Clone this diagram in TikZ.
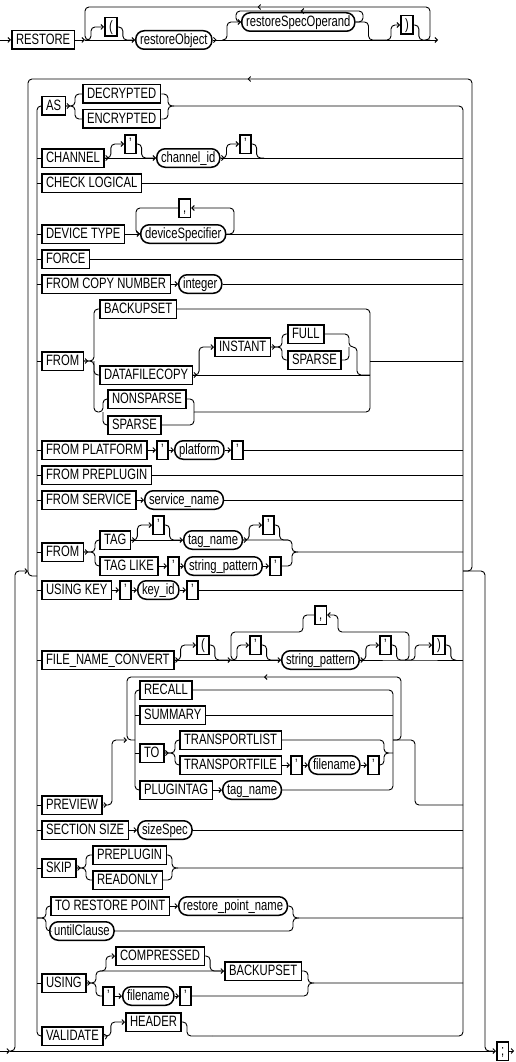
\documentclass[tikz,border=0pt]{standalone}
\usepackage{fontspec}
\setmainfont{Liberation Sans}[FakeStretch=0.75]
\usetikzlibrary{arrows.meta,calc,decorations.markings}

\tikzset{
  rail/.style={line width=0.9pt, rounded corners=4pt},
  arr/.style={-{Straight Barb[length=2.5pt,width=5pt]}},
  ex/.style={postaction={decorate}, decoration={markings,
      mark=at position 4pt with {\arrow{Straight Barb[length=2.5pt,width=5pt]}}}},
  retarrow/.style={postaction={decorate}, decoration={markings,
      mark=at position 0.5 with {\arrow{Straight Barb[length=2.5pt,width=5pt]}}}},
  kw/.style={draw, line width=1.5pt, anchor=west, fill=white, minimum height=18.5pt,
    inner xsep=4.3pt, inner ysep=0pt, text height=10.7pt, text depth=2.5pt,
    font=\fontsize{15pt}{15pt}\selectfont},
  nt/.style={kw, rounded corners=8.5pt},
}

\begin{document}
\begin{tikzpicture}[x=1pt,y=-1pt]
  \useasboundingbox (0,0) rectangle (515,1062);
  \newcommand\optbox[3]{%
    \draw[rail,arr] (#1) -- ++(6,0) |- (#2.west);
    \draw[rail] (#2.east) -- ++(5,0) |- (#3);}

  %% first line
  \node[kw] (restore) at (11,40) {RESTORE};
  \node[kw] (lparen) at (104,27) {(};
  \node[nt] (rObj) at (135,40) {restoreObject};
  \node[nt] (rSpec) at (241,22) {restoreSpecOperand};
  \node[kw] (rparen) at (400,25) {)};
  \coordinate (start0) at (0,40);
  \coordinate (j0a) at (85,40);
  \coordinate (j0c) at (222,40);
  \coordinate (j0d) at (385,40);
  \coordinate (j0e) at (430,40);
  \coordinate (end0) at (438,40);
  \coordinate (sp0L) at (236,22);
  \coordinate (sp0R) at (363,22);
  \coordinate (sp0T) at (300,11);
  \coordinate (lp0T) at (258,7);

  \draw[rail,arr] (start0) -- (restore.west);
  \draw[rail,arr] (restore.east) -- (j0a);
  \draw[rail,arr] (j0a) -- (rObj.west);
  \optbox{j0a}{lparen}{rObj.west}
  \draw[rail,ex,arr] (rObj.east) -- (end0);
  \draw[rail,arr] (j0c) -- ++(5,0) |- (rSpec.west);
  \draw[rail,retarrow] (rSpec.east) -- (sp0R) |- (sp0T) -| (sp0L) -- (rSpec.west);
  \draw[rail] (rSpec.east) -- ++(13,0) |- (j0d);
  \optbox{j0d}{rparen}{j0e}
  \draw[rail,retarrow] ($(j0e)+(-5,0)$) -- (j0e) |- (lp0T) -| (j0a) -- ++(5,0);

  %% rails and the repeat loop
  \coordinate (lb) at (37,1036);
  \coordinate (rb) at (463,1036);
  \coordinate (rj) at (463,571);
  \coordinate (lj) at (37,576);
  \coordinate (topR) at (472,79);
  \coordinate (topL) at (28,576);
  \coordinate (lowL) at (15,571);
  \coordinate (lowIn) at (28,571);
  \coordinate (lowR) at (485,1051);
  \coordinate (lowRe) at (493,1051);
  \coordinate (start1) at (0,1051);
  \coordinate (bl) at (10,1051);
  \node[kw] (semi) at (496,1051) {;};

  \draw[rail,retarrow] (rj) -| (topR) -| (topL) -- (lj);
  \draw[rail,arr] (bl) -| (lowL) -- (lowIn);
  \draw[rail] (rj) -| (lowR) -- (lowRe);
  \draw[rail,arr] (start1) -- (bl);
  \draw[rail,arr] (bl) -- (semi.west);
  \draw[rail,arr] (semi.east) -- ++(5,0);

  %% AS
  \node[kw] (as) at (41,106) {AS};
  \node[kw] (dec) at (82,94) {DECRYPTED};
  \node[kw] (enc) at (82,119) {ENCRYPTED};
  \coordinate (jAS) at (75,106);
  \coordinate (jASr) at (168,106);
  \draw[rail,ex] (as.east) -- (jAS) |- (dec.west);
  \draw[rail] (as.east) -- (jAS) |- (enc.west);
  \draw[rail] (dec.east) -| (jASr) -| (rb) -- (212,1036); %% right rail
  \draw[rail] (enc.east) -| (jASr) -- ++(6,0);
  \draw[rail] (as.west) -| (lb) -- (41,1036); %% left rail

  %% CHANNEL
  \node[kw] (chan) at (41,158) {CHANNEL};
  \node[kw] (q1) at (124,144) {'};
  \node[nt] (chid) at (156,158) {channel\_id};
  \node[kw] (q2) at (239,144) {'};
  \coordinate (jCh) at (264,158);
  \draw[rail] (chan.west -| lb) -- (chan.west);
  \draw[rail,ex,arr] (chan.east) -- (chid.west);
  \optbox{chan.east}{q1}{chid.west}
  \draw[rail,ex] (chid.east) -- (chid.east -| rb);
  \optbox{chid.east}{q2}{jCh}

  %% CHECK LOGICAL
  \node[kw] (chk) at (41,183) {CHECK LOGICAL};
  \draw[rail] (chk.west -| lb) -- (chk.west);
  \draw[rail] (chk.east) -- (chk.east -| rb);

  %% DEVICE TYPE
  \node[kw] (dev) at (41,234) {DEVICE TYPE};
  \node[nt] (devs) at (140,234) {deviceSpecifier};
  \node[kw] (comma1) at (178,208) {,};
  \coordinate (dvL) at (136,234);
  \coordinate (dvR) at (234,208);
  \draw[rail] (dev.west -| lb) -- (dev.west);
  \draw[rail,arr] (dev.east) -- (devs.west);
  \draw[rail] (devs.east) -- (devs.east -| rb);
  \draw[rail,arr] (devs.east) -| (dvR) -- (comma1.east);
  \draw[rail] (comma1.west) -| (dvL) -- (devs.west);

  %% FORCE
  \node[kw] (force) at (41,259) {FORCE};
  \draw[rail] (force.west -| lb) -- (force.west);
  \draw[rail] (force.east) -- (force.east -| rb);

  %% FROM COPY NUMBER
  \node[kw] (fcn) at (41,284) {FROM COPY NUMBER};
  \node[nt] (int) at (178,284) {integer};
  \draw[rail] (fcn.west -| lb) -- (fcn.west);
  \draw[rail,arr] (fcn.east) -- (int.west);
  \draw[rail] (int.east) -- (int.east -| rb);

  %% FROM BACKUPSET / DATAFILECOPY
  \node[kw] (from1) at (41,361) {FROM};
  \node[kw] (bks) at (99,309) {BACKUPSET};
  \node[kw] (dfc) at (99,375) {DATAFILECOPY};
  \node[kw] (inst) at (214,347) {INSTANT};
  \node[kw] (full) at (287,334) {FULL};
  \node[kw] (spr1) at (287,360) {SPARSE};
  \node[kw] (nsp) at (107,399) {NONSPARSE};
  \node[kw] (spr2) at (107,425) {SPARSE};
  \coordinate (jF) at (94,361);
  \coordinate (jFr) at (370,361);
  \coordinate (jFb) at (370,412);
  \coordinate (jN) at (103,412);
  \coordinate (jNr) at (194,412);
  \coordinate (jI) at (282,347);
  \coordinate (jIr) at (349,347);
  \draw[rail] (from1.west -| lb) -- (from1.west);
  \draw[rail,ex] (from1.east) -- (jF) |- (bks.west);
  \draw[rail] (from1.east) -- (jF) |- (dfc.west);
  \draw[rail] (jF) |- (jN) |- (nsp.west);
  \draw[rail] (jN) |- (spr2.west);
  \draw[rail] (bks.east) -| (jFb) -- (jNr);
  \draw[rail] (jFr) -- (jFr -| rb);
  \draw[rail,ex] (dfc.east) -- (dfc.east -| jFr);
  \draw[rail,arr] (dfc.east) -- ++(6,0) |- (inst.west);
  \draw[rail,ex] (inst.east) -- (jI) |- (full.west);
  \draw[rail] (inst.east) -- (jI) |- (spr1.west);
  \draw[rail] (full.east) -| (jIr) -- ++(8,0) |- (dfc.east -| jFr);
  \draw[rail] (spr1.east) -| (jIr);
  \draw[rail] (nsp.east) -| (jNr);
  \draw[rail] (spr2.east) -| (jNr);

  %% FROM PLATFORM
  \node[kw] (fpl) at (41,450) {FROM PLATFORM};
  \node[kw] (q3) at (156,450) {'};
  \node[nt] (plat) at (174,450) {platform};
  \node[kw] (q4) at (231,450) {'};
  \draw[rail] (fpl.west -| lb) -- (fpl.west);
  \draw[rail,arr] (fpl.east) -- (q3.west);
  \draw[rail,arr] (q3.east) -- (plat.west);
  \draw[rail,arr] (plat.east) -- (q4.west);
  \draw[rail] (q4.east) -- (q4.east -| rb);

  %% FROM PREPLUGIN
  \node[kw] (fpp) at (41,475) {FROM PREPLUGIN};
  \draw[rail] (fpp.west -| lb) -- (fpp.west);
  \draw[rail] (fpp.east) -- (fpp.east -| rb);

  %% FROM SERVICE
  \node[kw] (fsv) at (41,500) {FROM SERVICE};
  \node[nt] (svc) at (144,500) {service\_name};
  \draw[rail] (fsv.west -| lb) -- (fsv.west);
  \draw[rail,arr] (fsv.east) -- (svc.west);
  \draw[rail] (svc.east) -- (svc.east -| rb);

  %% FROM TAG
  \node[kw] (from2) at (41,552) {FROM};
  \node[kw] (tag) at (99,540) {TAG};
  \node[kw] (q5) at (152,525) {'};
  \node[nt] (tagn) at (183,540) {tag\_name};
  \node[kw] (q6) at (262,525) {'};
  \node[kw] (tagl) at (99,566) {TAG LIKE};
  \node[kw] (q7) at (167,566) {'};
  \node[nt] (strp) at (184,566) {string\_pattern};
  \node[kw] (q8) at (269,566) {'};
  \coordinate (jT) at (95,552);
  \coordinate (jTr) at (292,552);
  \coordinate (jT6) at (288,540);
  \draw[rail] (from2.west -| lb) -- (from2.west);
  \draw[rail,ex] (from2.east) -- (jT) |- (tag.west);
  \draw[rail] (from2.east) -- (jT) |- (tagl.west);
  \draw[rail,ex,arr] (tag.east) -- (tagn.west);
  \optbox{tag.east}{q5}{tagn.west}
  \draw[rail,ex] (tagn.east) -| (jTr) -- (jTr -| rb);
  \optbox{tagn.east}{q6}{jT6}
  \draw[rail,arr] (tagl.east) -- (q7.west);
  \draw[rail,arr] (q7.east) -- (strp.west);
  \draw[rail,arr] (strp.east) -- (q8.west);
  \draw[rail] (q8.east) -| (jTr) -- ++(6,0);

  %% USING KEY
  \node[kw] (uk) at (41,590) {USING KEY};
  \node[kw] (q9) at (119,590) {'};
  \node[nt] (kid) at (137,590) {key\_id};
  \node[kw] (q10) at (186,590) {'};
  \draw[rail] (uk.west -| lb) -- (uk.west);
  \draw[rail,arr] (uk.east) -- (q9.west);
  \draw[rail,arr] (q9.east) -- (kid.west);
  \draw[rail,arr] (kid.east) -- (q10.west);
  \draw[rail] (q10.east) -- (q10.east -| rb);

  %% FILE_NAME_CONVERT
  \node[kw] (fnc) at (41,660) {FILE\_NAME\_CONVERT};
  \node[kw] (lp2) at (196,645) {(};
  \node[kw] (q11) at (249,645) {'};
  \node[nt] (strp2) at (281,660) {string\_pattern};
  \node[kw] (q12) at (379,645) {'};
  \node[kw] (comma2) at (314,615) {,};
  \node[kw] (rp2) at (432,645) {)};
  \coordinate (jLl) at (231,660);
  \coordinate (jLr) at (409,660);
  \coordinate (cR) at (338,632);
  \coordinate (cL) at (303,632);
  \coordinate (jP) at (456,660);
  \draw[rail] (fnc.west -| lb) -- (fnc.west);
  \draw[rail,ex,arr] (fnc.east) -- (jLl);
  \optbox{fnc.east}{lp2}{jLl}
  \draw[rail,arr] (jLl) -- (strp2.west);
  \optbox{jLl}{q11}{strp2.west}
  \draw[rail,ex] (strp2.east) -- (jLr) -- (jLr -| rb);
  \optbox{strp2.east}{q12}{jLr}
  \optbox{jLr}{rp2}{jP}
  \draw[rail,arr] ($(jLr)+(-4,0)$) -- (jLr) |- (cR) |- (comma2.east); %% back through ,
  \draw[rail] (comma2.west) -| (cL) -| (jLl) -- ++(4,0);

  %% PREVIEW
  \node[kw] (prev) at (41,805) {PREVIEW};
  \node[kw] (rec) at (139,690) {RECALL};
  \node[kw] (sum) at (139,715) {SUMMARY};
  \node[kw] (to1) at (139,753) {TO};
  \node[kw] (tpl) at (179,740) {TRANSPORTLIST};
  \node[kw] (tpf) at (179,765) {TRANSPORTFILE};
  \node[kw] (q13) at (290,765) {'};
  \node[nt] (fnm) at (308,765) {filename};
  \node[kw] (q14) at (367,765) {'};
  \node[kw] (plg) at (139,790) {PLUGINTAG};
  \node[nt] (tgn2) at (222,790) {tag\_name};
  \coordinate (pvIn) at (127,740);
  \coordinate (pvOut) at (401,740);
  \coordinate (pvT) at (264,677);
  \coordinate (pvL) at (135,790);
  \coordinate (pvR) at (393,790);
  \coordinate (pvX) at (415,805);
  \coordinate (jTO) at (175,753);
  \coordinate (jTOr) at (384,753);
  \draw[rail] (prev.west -| lb) -- (prev.west);
  \draw[rail,ex,arr] (prev.east) -- ++(9,0) |- (pvIn);
  \draw[rail,retarrow] (pvR |- pvOut) -- (pvOut) |- (pvT) -| (pvIn) -- (pvIn -| pvL);
  \draw[rail] (rec.west) -| (pvL) -- (plg.west);
  \draw[rail] (rec.east) -| (pvR) -- (tgn2.east);
  \draw[rail] (sum.west -| pvL) -- (sum.west);
  \draw[rail] (sum.east) -- (sum.east -| pvR);
  \draw[rail] (to1.west -| pvL) -- (to1.west);
  \draw[rail,ex] (to1.east) -- (jTO) |- (tpl.west);
  \draw[rail] (to1.east) -- (jTO) |- (tpf.west);
  \draw[rail] (tpl.east) -| (jTOr) -- (jTOr -| pvR);
  \draw[rail] (q14.east) -| (jTOr) -- ++(5,0);
  \draw[rail,arr] (tpf.east) -- (q13.west);
  \draw[rail,arr] (q13.east) -- (fnm.west);
  \draw[rail,arr] (fnm.east) -- (q14.west);
  \draw[rail,arr] (plg.east) -- (tgn2.west);
  \draw[rail] (pvR |- pvOut) -- (pvOut) -| (pvX) -- (pvX -| rb);

  %% SECTION SIZE
  \node[kw] (ss) at (41,830) {SECTION SIZE};
  \node[nt] (szs) at (137,830) {sizeSpec};
  \draw[rail] (ss.west -| lb) -- (ss.west);
  \draw[rail,arr] (ss.east) -- (szs.west);
  \draw[rail] (szs.east) -- (szs.east -| rb);

  %% SKIP
  \node[kw] (skip) at (41,868) {SKIP};
  \node[kw] (prep) at (92,855) {PREPLUGIN};
  \node[kw] (ronly) at (92,880) {READONLY};
  \coordinate (jS) at (86,868);
  \coordinate (jSr) at (172,868);
  \draw[rail] (skip.west -| lb) -- (skip.west);
  \draw[rail,ex] (skip.east) -- (jS) |- (prep.west);
  \draw[rail] (skip.east) -- (jS) |- (ronly.west);
  \draw[rail] (prep.east) -| (jSr) -- (jSr -| rb);
  \draw[rail] (ronly.east) -| (jSr) -- ++(6,0);

  %% TO RESTORE POINT
  \node[kw] (trp) at (50,906) {TO RESTORE POINT};
  \node[nt] (rpn) at (178,906) {restore\_point\_name};
  \node[nt] (untl) at (49,931) {untilClause};
  \coordinate (jR) at (46,918);
  \coordinate (jRr) at (293,918);
  \draw[rail] (jR -| lb) -- (jR) |- (trp.west);
  \draw[rail] (jR -| lb) -- (jR) |- (untl.west);
  \draw[rail,arr] (trp.east) -- (rpn.west);
  \draw[rail] (rpn.east) -| (jRr) -- (jRr -| rb);
  \draw[rail] (untl.east) -| (jRr) -- ++(6,0);

  %% USING
  \node[kw] (using) at (41,983) {USING};
  \node[kw] (cmp) at (115,956) {COMPRESSED};
  \node[kw] (bks2) at (224,971) {BACKUPSET};
  \node[kw] (q15) at (102,996) {'};
  \node[nt] (fnm2) at (122,996) {filename};
  \node[kw] (q16) at (179,996) {'};
  \coordinate (jU) at (96,983);
  \coordinate (jU2) at (100,971);
  \coordinate (jUr) at (308,983);
  \draw[rail] (using.west -| lb) -- (using.west);
  \draw[rail,ex,arr] (using.east) -- (jU) |- (bks2.west);
  \draw[rail] (using.east) -- (jU) |- (q15.west);
  \optbox{jU2}{cmp}{bks2.west}
  \draw[rail,arr] (q15.east) -- (fnm2.west);
  \draw[rail,arr] (fnm2.east) -- (q16.west);
  \draw[rail] (bks2.east) -| (jUr) -- (jUr -| rb);
  \draw[rail] (q16.east) -| (jUr) -- ++(6,0);

  %% VALIDATE
  \node[kw] (val) at (41,1036) {VALIDATE};
  \node[kw] (hdr) at (125,1022) {HEADER};
  \coordinate (jV) at (197,1036);
  \draw[rail,ex,arr] (val.east) -- ++(7,0) |- (hdr.west);
  \draw[rail] (hdr.east) -- ++(5,0) |- (jV) -- ++(15,0);

\end{tikzpicture}
\end{document}
